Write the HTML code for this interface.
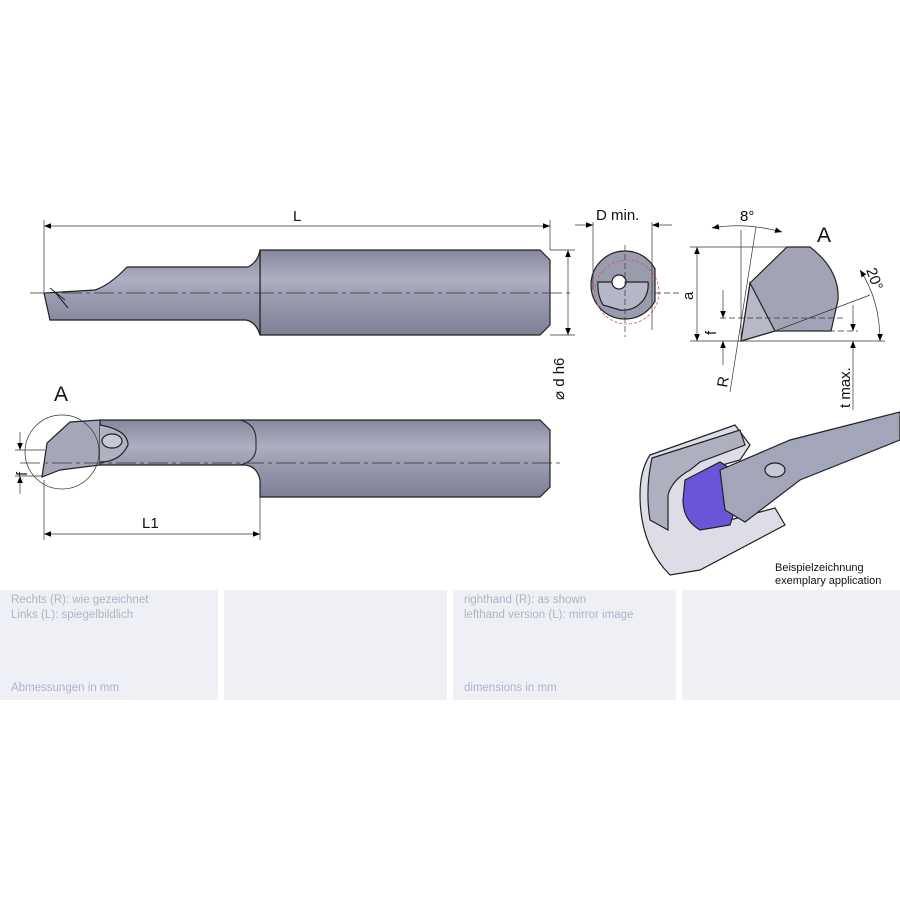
<!DOCTYPE html>
<html><head><meta charset="utf-8"><style>
body{margin:0;background:#fff;width:900px;height:900px;overflow:hidden;font-family:"Liberation Sans",sans-serif}
.p{position:absolute;top:590px;height:110px;background:#eff0f5;color:#b0b2cc;font-size:11.5px;line-height:15px}
.p div{position:absolute;left:11px}
</style></head><body>
<svg width="900" height="900" style="position:absolute;left:0;top:0" font-family="Liberation Sans, sans-serif">
<defs>
<linearGradient id="g" x1="0" y1="0" x2="0" y2="1">
<stop offset="0" stop-color="#85879c"/><stop offset="0.35" stop-color="#aeb0c2"/><stop offset="0.55" stop-color="#9a9cb0"/><stop offset="1" stop-color="#7d7f94"/></linearGradient>
<marker id="a" viewBox="0 0 10 10" refX="10" refY="5" markerUnits="userSpaceOnUse" markerWidth="12" markerHeight="7" orient="auto-start-reverse"><path d="M0,1 L10,5 L0,9z" fill="#000"/></marker>
<clipPath id="ec"><rect x="580" y="240" width="75" height="90"/></clipPath>
</defs>
<g stroke="#222" stroke-width="1.2">
<!-- top tool -->
<path d="M260,250 L540,250 L550,260 L550,325 L540,335 L260,335z" fill="url(#g)"/>
<path d="M127,267 L248,267 Q258,262 260,250 L260,335 Q256,322 246,320 L50,320 L44,293 L95,290 Q110,285 127,267z" fill="url(#g)"/>
<path d="M50,288 L65,300 M55,292 L68,308" stroke-width="1"/>
<!-- bottom tool -->
<path d="M100,420 L540,420 L550,430 L550,487 L540,497 L260,497 L260,480 Q257,466 245,465 L100,465z" fill="url(#g)"/>
<path d="M70,422 L100,420 L100,465 L60,470 L42,477 L47,443z" fill="#a5a7b9"/>
<path d="M100,420 L240,420 Q256,424 256,440 L256,450 Q254,462 240,465 L100,465" fill="none" stroke-width="1"/>
<path d="M100,425 Q128,430 128,445 Q120,462 100,462" fill="#b0b2c2"/>
<ellipse cx="112" cy="441" rx="10" ry="7" fill="#c8c9d6"/>
<!-- end view -->
<circle cx="625" cy="285" r="34" fill="#9a9cae" clip-path="url(#ec)"/>
<line x1="655" y1="268" x2="655" y2="302"/>
<path d="M598,282 L648,282 A25,25 0 0 1 620,310 L603,305 Q597,295 598,282z" fill="#b5b6c6"/>
<circle cx="619" cy="282" r="7" fill="#fff"/>
<circle cx="627" cy="292" r="32" fill="none" stroke="#d45060" stroke-width="0.8" stroke-dasharray="3 2"/>
<!-- detail A -->
<path d="M750,283 L787,247 L810,247 Q840,270 838,300 L831,331 L775,331 L741,341z" fill="#a2a4b6"/>
<path d="M750,283 L775,331 L741,341z" fill="#b8b9c8"/>
<!-- application -->
<path d="M650,455 L735,425 L750,445 L740,460 L705,470 L700,528 L775,508 L785,525 L700,570 L670,575 Q640,545 640,495 Q640,470 650,455z" fill="#dcdde7"/>
<path d="M652,458 L740,430 L745,445 L700,462 L690,470 Q672,480 668,495 L668,530 L650,520 Q645,490 652,458z" fill="#aeb0c0"/>
<path d="M685,480 L720,462 L745,478 L730,525 L700,530 Q683,520 683,500z" fill="#6a55d8"/>
<path d="M720,470 L790,440 L900,412 L900,440 L800,480 L745,522 L725,510z" fill="#a3a5b8"/>
<ellipse cx="775" cy="470" rx="10" ry="7" fill="#c8c9d6"/>
</g>
<g stroke="#333" stroke-width="0.7" fill="none">
<line x1="30" y1="293" x2="570" y2="293" stroke-dasharray="20 4 4 4"/>
<line x1="20" y1="463" x2="560" y2="463" stroke-dasharray="20 4 4 4"/>
<line x1="44" y1="220" x2="44" y2="293"/><line x1="550" y1="220" x2="550" y2="250"/>
<line x1="44" y1="226" x2="550" y2="226" marker-start="url(#a)" marker-end="url(#a)"/>
<line x1="550" y1="250" x2="575" y2="250"/><line x1="550" y1="335" x2="575" y2="335"/>
<line x1="568" y1="250" x2="568" y2="335" marker-start="url(#a)" marker-end="url(#a)"/>
<line x1="44" y1="480" x2="44" y2="540"/><line x1="260" y1="497" x2="260" y2="540"/>
<line x1="44" y1="534" x2="260" y2="534" marker-start="url(#a)" marker-end="url(#a)"/>
<circle cx="62" cy="452" r="37"/>
<line x1="15" y1="450" x2="45" y2="450"/><line x1="15" y1="476" x2="45" y2="476"/>
<line x1="20" y1="432" x2="20" y2="450" marker-end="url(#a)"/><line x1="20" y1="494" x2="20" y2="476" marker-end="url(#a)"/>
<line x1="593" y1="222" x2="593" y2="290"/><line x1="652" y1="222" x2="652" y2="330"/>
<line x1="575" y1="225" x2="593" y2="225" marker-end="url(#a)"/><line x1="672" y1="225" x2="652" y2="225" marker-end="url(#a)"/>
<line x1="625" y1="245" x2="625" y2="337" stroke-dasharray="6 3"/>
<line x1="655" y1="293" x2="680" y2="293" stroke-dasharray="6 3"/>
<line x1="690" y1="247" x2="790" y2="247"/><line x1="690" y1="341" x2="885" y2="341"/>
<line x1="697" y1="247" x2="697" y2="341" marker-start="url(#a)" marker-end="url(#a)"/>
<line x1="720" y1="318" x2="845" y2="318" stroke-dasharray="6 3"/><line x1="775" y1="331" x2="858" y2="331" stroke-dasharray="6 3"/>
<line x1="723" y1="290" x2="723" y2="318" marker-end="url(#a)"/><line x1="723" y1="365" x2="723" y2="341" marker-end="url(#a)"/>
<line x1="741" y1="230" x2="741" y2="341"/><line x1="756" y1="227" x2="730" y2="392"/>
<line x1="775" y1="331" x2="870" y2="295"/>
<line x1="853" y1="305" x2="853" y2="331" marker-end="url(#a)"/><line x1="853" y1="410" x2="853" y2="341" marker-end="url(#a)"/>
<path d="M712,228 Q745,222 782,232" marker-start="url(#a)" marker-end="url(#a)"/>
<path d="M860,270 Q880,300 880,341" marker-start="url(#a)" marker-end="url(#a)"/>
</g>
<g font-size="15" fill="#111">
<text x="293" y="221">L</text>
<text x="596" y="220">D min.</text>
<text x="740" y="221">8°</text>
<text x="817" y="242" font-size="21">A</text>
<text x="54" y="401" font-size="21">A</text>
<text x="142" y="528">L1</text>
<text transform="translate(693,300) rotate(-90)">a</text>
<text transform="translate(716,335) rotate(-90)">f</text>
<text transform="translate(27,476) rotate(-90)">f</text>
<text transform="translate(564,400) rotate(-90)">⌀ d h6</text>
<text transform="translate(727,388) rotate(-80)">R</text>
<text transform="translate(850,408) rotate(-90)">t max.</text>
<text transform="translate(866,270) rotate(70)">20°</text>
<text x="775" y="571" font-size="11">Beispielzeichnung</text>
<text x="775" y="584" font-size="11">exemplary application</text>
</g>
</svg>
<div class="p" style="left:0;width:218px"><div style="top:3px">Rechts (R): wie gezeichnet<br>Links (L): spiegelbildlich</div><div style="top:91px">Abmessungen in mm</div></div>
<div class="p" style="left:224px;width:223px"></div>
<div class="p" style="left:453px;width:223px"><div style="top:3px">righthand (R): as shown<br>lefthand version (L): mirror image</div><div style="top:91px">dimensions in mm</div></div>
<div class="p" style="left:682px;width:218px"></div>
</body></html>
